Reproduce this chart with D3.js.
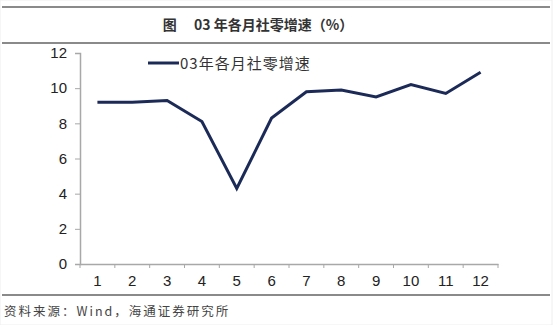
<!DOCTYPE html>
<html>
<head>
<meta charset="utf-8">
<script src="https://cdn.jsdelivr.net/npm/d3@7"></script>
<style>
  body { margin: 0; background: #fff; }
  svg { display: block; }
</style>
</head>
<body>
<div id="chart"></div>
<script>
// data
var months = ["1", "2", "3", "4", "5", "6", "7", "8", "9", "10", "11", "12"];
var growth = [9.2, 9.2, 9.3, 8.1, 4.3, 8.3, 9.8, 9.9, 9.5, 10.2, 9.7, 10.9];
var yTicks = [0, 2, 4, 6, 8, 10, 12];
var seriesName = "03年各月社零增速";
var titleText = "图\u2003 03 年各月社零增速（%）";
var sourceText = "资料来源：Wind，海通证券研究所";

var W = 556, H = 325;
var cjk = "'Noto Sans CJK SC', 'Noto Sans', sans-serif";
var latin = "Arial, 'Liberation Sans', sans-serif";

var svg = d3.select("#chart")
  .append("svg")
  .attr("width", W)
  .attr("height", H);

//frame lines
svg.append("rect")
  .attr("x", 0).attr("y", 0)
  .attr("width", 552).attr("height", H)
  .attr("fill", "#fff")
  .attr("stroke", "#eeeeee");

svg.append("line")
  .attr("x1", 2).attr("x2", 550)
  .attr("y1", 7).attr("y2", 7)
  .attr("stroke", "#8a8a8a").attr("stroke-width", 2);

svg.append("line")
  .attr("x1", 2).attr("x2", 550)
  .attr("y1", 43).attr("y2", 43)
  .attr("stroke", "#8a8a8a").attr("stroke-width", 2);

svg.append("line")
  .attr("x1", 2).attr("x2", 550)
  .attr("y1", 295).attr("y2", 295)
  .attr("stroke", "#8a8a8a").attr("stroke-width", 2);

//title
svg.append("text")
  .attr("x", 258).attr("y", 30)
  .attr("text-anchor", "middle")
  .attr("font-family", cjk)
  .attr("font-weight", "bold")
  .attr("font-size", 14)
  .attr("fill", "#333")
  .text(titleText);

//source
svg.append("text")
  .attr("x", 4).attr("y", 316)
  .attr("font-family", cjk)
  .attr("font-size", 12.5)
  .attr("letter-spacing", 2)
  .attr("fill", "#444")
  .text(sourceText);

//scales
var x = d3.scaleBand().domain(months).range([80, 498]);
var y = d3.scaleLinear().domain([0, 12]).range([264, 53]);

//axes
var yAxis = svg.append("g")
  .attr("transform", "translate(80,0)")
  .call(d3.axisLeft(y).tickValues(yTicks).tickSize(5).tickPadding(8));

var xAxis = svg.append("g")
  .attr("transform", "translate(0,264)")
  .call(d3.axisBottom(x).tickSize(0).tickPadding(11));

// ticks between the categories
xAxis.selectAll(".bound")
  .data(months.concat(["end"]))
  .enter()
  .append("line")
  .attr("class", "bound")
  .attr("x1", (d, i) => 80 + i * x.step())
  .attr("x2", (d, i) => 80 + i * x.step())
  .attr("y1", 0).attr("y2", 4)
  .attr("stroke", "#a8a8a8");

[yAxis, xAxis].forEach(function (g) {
  g.select(".domain").attr("stroke", "#a8a8a8").attr("stroke-width", 1.5);
  g.selectAll(".tick line").attr("stroke", "#a8a8a8");
  g.selectAll("text")
    .attr("font-family", latin)
    .attr("font-size", 15)
    .attr("fill", "#222");
});

//line
var line = d3.line()
  .x((d, i) => x(months[i]) + x.bandwidth() / 2)
  .y(d => y(d));

svg.append("path")
  .datum(growth)
  .attr("d", line)
  .attr("fill", "none")
  .attr("stroke", "#1c2a58")
  .attr("stroke-width", 3)
  .attr("stroke-linejoin", "miter");

//legend
svg.append("line")
  .attr("x1", 148).attr("x2", 179)
  .attr("y1", 63).attr("y2", 63)
  .attr("stroke", "#1c2a58")
  .attr("stroke-width", 3);

svg.append("text")
  .attr("x", 180).attr("y", 69)
  .attr("font-family", cjk)
  .attr("font-size", 15)
  .attr("letter-spacing", 1)
  .attr("fill", "#333")
  .text(seriesName);
</script>
</body>
</html>
